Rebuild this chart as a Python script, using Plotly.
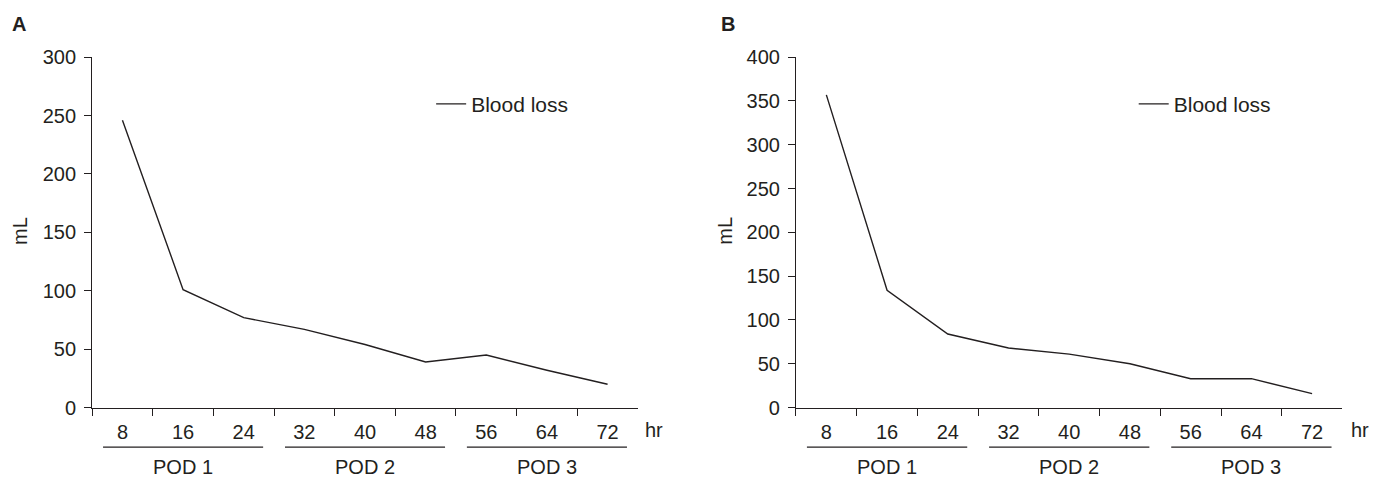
import plotly.graph_objects as go

# ---- data ----
hours = ["8", "16", "24", "32", "40", "48", "56", "64", "72"]
blood_loss_a = [246, 101, 77, 67, 54, 39, 45, 32, 20]
blood_loss_b = [357, 134, 84, 68, 61, 50, 33, 33, 16]
pod_labels = ["POD 1", "POD 2", "POD 3"]
pod_hours = [["8", "16", "24"], ["32", "40", "48"], ["56", "64", "72"]]
series_name = "Blood loss"
y_title = "mL"
x_unit = "hr"
panel_labels = ["A", "B"]

W, H = 1381, 478
INK = "#231f20"
FONT = "Liberation Sans, Arial, Helvetica, sans-serif"

# the page places the paper area at screen x 9..1383, y 17..477
PX0, PW = 9.0, 1374.0
PY0, PH = 17.0, 460.0


def fx(p):
    return (p - PX0) / PW


def fy(p):
    return 1 - (p - PY0) / PH


fig = go.Figure()
fig.add_trace(go.Scatter(x=hours, y=blood_loss_a, mode="lines", name=series_name,
                         line=dict(color=INK, width=1.4), xaxis="x", yaxis="y",
                         legend="legend"))
fig.add_trace(go.Scatter(x=hours, y=blood_loss_b, mode="lines", name=series_name,
                         line=dict(color=INK, width=1.4), xaxis="x2", yaxis="y2",
                         legend="legend2"))

y_dom = [fy(409), fy(55.5)]
xa = dict(type="category", tickson="boundaries", ticks="outside", ticklen=7,
          tickwidth=1.2, tickcolor=INK, showline=True, linecolor=INK, linewidth=1.2,
          showgrid=False, zeroline=False, tickfont=dict(size=20, color=INK, family=FONT),
          ticklabelstandoff=6, range=[-0.5, 8.5], fixedrange=True)
ya = dict(ticks="outside", ticklen=7, tickwidth=1.2, tickcolor=INK, showline=True,
          linecolor=INK, linewidth=1.2, showgrid=False, zeroline=False, dtick=50,
          ticklabelstandoff=4,
          tickfont=dict(size=20, color=INK, family=FONT), domain=y_dom)

panels = [
    dict(xdom=[fx(92.7), fx(635.7)], ymax=300, hr_x=651.7, ml_x=20.7, lab_x=20,
         leg_x=480, xref="x"),
    dict(xdom=[fx(793), fx(1336.7)], ymax=400, hr_x=1354, ml_x=723, lab_x=725,
         leg_x=1179, xref="x2"),
]

annotations = []
shapes = []
for i, p in enumerate(panels):
    suffix = "" if i == 0 else "2"
    fig.update_layout(**{
        "xaxis" + suffix: dict(xa, domain=p["xdom"], anchor="y" + suffix),
        "yaxis" + suffix: dict(ya, range=[0, p["ymax"]], anchor="x" + suffix),
    })
    annotations.append(dict(text=x_unit, x=fx(p["hr_x"]), y=fy(431.7), xref="paper",
                            yref="paper", showarrow=False, xanchor="center",
                            yanchor="middle", font=dict(size=20, color=INK, family=FONT)))
    annotations.append(dict(text=y_title, x=fx(p["ml_x"]), y=fy(231), xref="paper",
                            yref="paper", showarrow=False, textangle=-90,
                            xanchor="center", yanchor="middle",
                            font=dict(size=20, color=INK, family=FONT)))
    annotations.append(dict(text="<b>" + panel_labels[i] + "</b>", x=fx(p["lab_x"]),
                            y=fy(22), xref="paper", yref="paper", showarrow=False,
                            xanchor="center", yanchor="middle",
                            font=dict(size=20, color=INK, family=FONT)))
    for lab, grp in zip(pod_labels, pod_hours):
        i0 = hours.index(grp[0])
        i1 = hours.index(grp[-1])
        shapes.append(dict(type="line", xref=p["xref"], yref="paper",
                           x0=i0 - 0.32, x1=i1 + 0.32, y0=fy(448.8), y1=fy(448.8),
                           line=dict(color=INK, width=1.3)))
        annotations.append(dict(text=lab, x=(i0 + i1) / 2, y=fy(468.5), xref=p["xref"],
                                yref="paper", showarrow=False, xanchor="center",
                                yanchor="middle",
                                font=dict(size=20, color=INK, family=FONT)))

leg_common = dict(xanchor="left", yanchor="middle", bgcolor="rgba(0,0,0,0)",
                  font=dict(size=21, color=INK, family=FONT), borderwidth=0)
fig.update_layout(
    width=W, height=H, autosize=False,
    margin=dict(l=0, r=0, t=0, b=0),
    paper_bgcolor="white", plot_bgcolor="white",
    showlegend=True,
    legend=dict(leg_common, x=fx(panels[0]["leg_x"] - 50), y=fy(103)),
    legend2=dict(leg_common, x=fx(panels[1]["leg_x"] - 50), y=fy(103)),
    annotations=annotations, shapes=shapes,
    font=dict(family=FONT, color=INK),
)

fig.write_html("out.html")
